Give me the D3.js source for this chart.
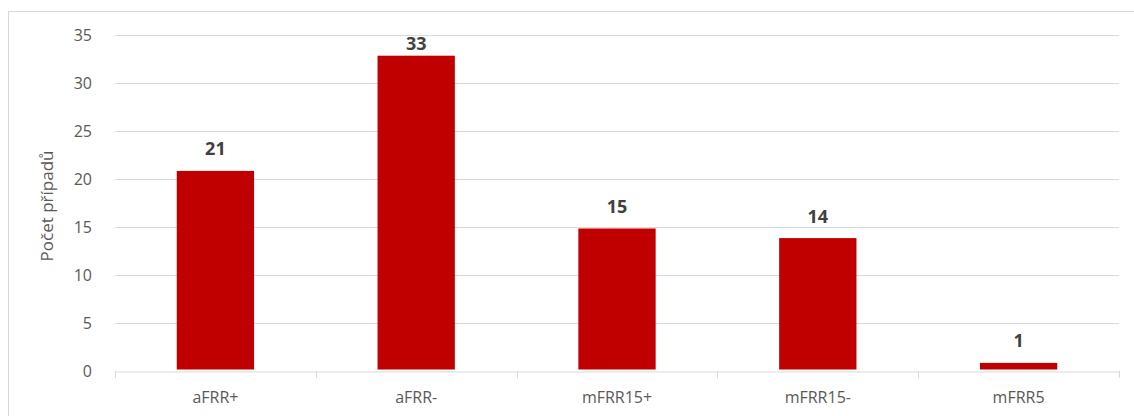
<!DOCTYPE html>
<html><head><meta charset="utf-8">
<script src="https://cdn.jsdelivr.net/npm/d3@7/dist/d3.min.js"></script>
<style>body{margin:0;background:#fff;}svg{display:block;font-family:"Open Sans",sans-serif;}</style>
</head><body>
<svg id="c" width="1134" height="416"></svg>
<script>
const categories = ["aFRR+","aFRR-","mFRR15+","mFRR15-","mFRR5"];
const values = [21,33,15,14,1];
const yTicks = [0,5,10,15,20,25,30,35];
const yLabel = "Počet případů";

const svg = d3.select("#c");
svg.append("rect").attr("x",8.5).attr("y",11.5).attr("width",1140).attr("height",420)
  .attr("fill","#fff").attr("stroke","#d9d9d9").attr("stroke-width",1);

const m = {left:115, right:1119, top:35, bottom:371};
const x = d3.scaleBand().domain(categories).range([m.left,m.right]).paddingInner(0.615).paddingOuter(0.3075);
const xb = d3.scaleBand().domain(categories).range([m.left,m.right]);
const y = d3.scaleLinear().domain([0,35]).range([m.bottom,m.top]);

// gridlines
svg.append("g").selectAll("line").data(yTicks.filter(d=>d>0)).join("line")
  .attr("x1",m.left).attr("x2",m.right)
  .attr("y1",d=>Math.round(y(d))+0.5).attr("y2",d=>Math.round(y(d))+0.5)
  .attr("stroke","#d9d9d9").attr("stroke-width",1);

// y axis labels
const ya = svg.append("g").attr("transform",`translate(${m.left},0)`)
  .call(d3.axisLeft(y).tickValues(yTicks).tickSize(0).tickPadding(23));
ya.select(".domain").remove();
ya.selectAll("text").attr("fill","#595959").style("font-size","16px").style("font-family","'Open Sans',sans-serif");

// bars
svg.append("g").selectAll("rect").data(values).join("rect")
  .attr("x",(d,i)=>x(categories[i])).attr("width",x.bandwidth())
  .attr("y",d=>y(d)+1.5).attr("height",d=>y(0)-y(d)-3).attr("fill","#c00000");

// x axis
const xa = svg.append("g").attr("transform",`translate(0,${Math.round(y(0))+0.5})`)
  .call(d3.axisBottom(xb).tickSize(0).tickPadding(20));
xa.select(".domain").attr("stroke","#d9d9d9");
xa.selectAll("text").attr("fill","#595959").style("font-size","16px").style("font-family","'Open Sans',sans-serif");
// category boundary ticks
const bounds = categories.map(c=>xb(c)).concat([m.right]);
svg.append("g").selectAll("line").data(bounds).join("line")
  .attr("x1",d=>Math.round(d)+0.5).attr("x2",d=>Math.round(d)+0.5)
  .attr("y1",Math.round(y(0))).attr("y2",Math.round(y(0))+7)
  .attr("stroke","#d9d9d9");

// value labels (clamped inside the plot area)
svg.append("g").selectAll("text").data(values).join("text")
  .attr("x",(d,i)=>x(categories[i])+x.bandwidth()/2)
  .attr("y",d=>Math.max(y(d)-14, m.top+15))
  .attr("text-anchor","middle").attr("fill","#404040")
  .style("font-size","18px").style("font-weight","bold").text(d=>d);

// y label
svg.append("text").attr("transform",`translate(53,${(m.top+m.bottom)/2 + 3}) rotate(-90)`)
  .attr("text-anchor","middle").attr("fill","#595959").style("font-size","17px").text(yLabel);
</script>
</body></html>
